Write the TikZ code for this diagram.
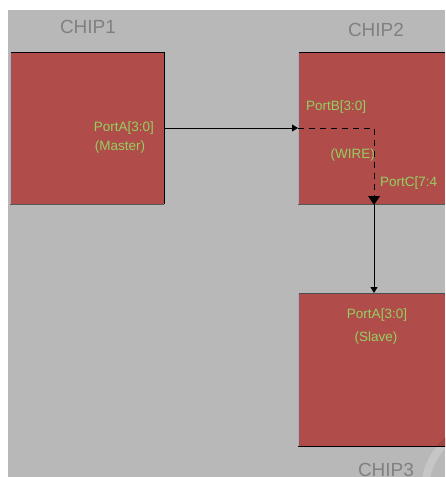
\documentclass[tikz,border=0pt]{standalone}
\usepackage{fontspec}
\setmainfont{Liberation Sans}
\usetikzlibrary{arrows.meta}
\definecolor{bggray}{HTML}{B8B8B8}
\definecolor{chipred}{HTML}{B04C4A}
\definecolor{chipdark}{HTML}{A04442}
\definecolor{ringgray}{HTML}{C6C6C6}
\definecolor{porttext}{HTML}{94D060}
\definecolor{titlegray}{HTML}{808080}
\definecolor{edgeblue}{HTML}{9DB3C8}
\tikzset{
  chipbox/.style={fill=chipred, draw=none},
  porttxt/.style={text=porttext, font=\fontsize{13.5}{15}\selectfont, inner sep=0pt},
  chiptitle/.style={text=titlegray, font=\fontsize{19}{21}\selectfont, inner sep=0pt},
  wire/.style={draw=black, line width=0.8pt},
  tip/.style={-{Triangle[length=6pt,width=7pt]}}
}
\begin{document}
\begin{tikzpicture}[x=1pt,y=-1pt]
\useasboundingbox (0,0) rectangle (445,477);
\fill[white] (0,0) rectangle (445,477);
\fill[bggray] (8,10) rectangle (445,477);
\begin{scope}
\clip (8,10) rectangle (445,477);
\draw[ringgray, line width=8pt] (490,490) circle (65);
% chips
\fill[chipbox] (10,52) rectangle (164,204);
\fill[chipbox] (298,52) rectangle (445,204);
\fill[chipbox] (298,293) rectangle (445,446);
\begin{scope}
\clip (298,293) rectangle (445,446);
\draw[chipdark, line width=8pt] (490,490) circle (65);
\end{scope}
\end{scope}
% borders
\draw[black, line width=1pt] (10,52) -- (164,52) -- (164,204);
\draw[edgeblue, line width=1pt] (10,52) -- (10,204);
\draw[gray!70!black, line width=1pt] (10,204) -- (164,204);
\draw[black, line width=1pt] (298,52) -- (445,52);
\draw[edgeblue, line width=1pt] (298,52) -- (298,204);
\draw[gray!70!black, line width=1pt] (298,204) -- (445,204);
\draw[gray!60!black, line width=0.8pt] (298,293) -- (445,293);
\draw[edgeblue, line width=1pt] (298,293) -- (298,446);
\draw[black, line width=1pt] (298,446) -- (445,446);
% titles
\node[chiptitle] (t1) at (88,27) {CHIP1};
\node[chiptitle] (t2) at (376,30) {CHIP2};
\node[chiptitle] (t3) at (386,470) {CHIP3};
% ports
\node[porttxt, anchor=east] (pa) at (154,128) {PortA[3:0]};
\node[porttxt] (pam) at (120,147) {(Master)};
\node[porttxt, anchor=west] (pb) at (306,107) {PortB[3:0]};
\node[porttxt, anchor=east] (wr) at (375,155) {(WIRE)};
\node[porttxt, anchor=west] (pc) at (380,183) {PortC[7:4};
\node[porttxt] (sa) at (377,315) {PortA[3:0]};
\node[porttxt] (sl) at (376,338) {(Slave)};
% connection points
\coordinate (a1) at (164,128);
\coordinate (b1) at (298,128);
\coordinate (bend) at (374,128);
\coordinate (c1) at (374,203);
\coordinate (s1) at (374,293);
\draw[wire, tip] (a1) -- (b1);
\draw[wire, dashed, dash pattern=on 6pt off 5pt] (b1) -- (bend) -- (c1);
\fill[black] (368,196) -- (380,196) -- (374,205) -- cycle;
\draw[wire, tip] (c1) -- (s1);
\end{tikzpicture}
\end{document}
